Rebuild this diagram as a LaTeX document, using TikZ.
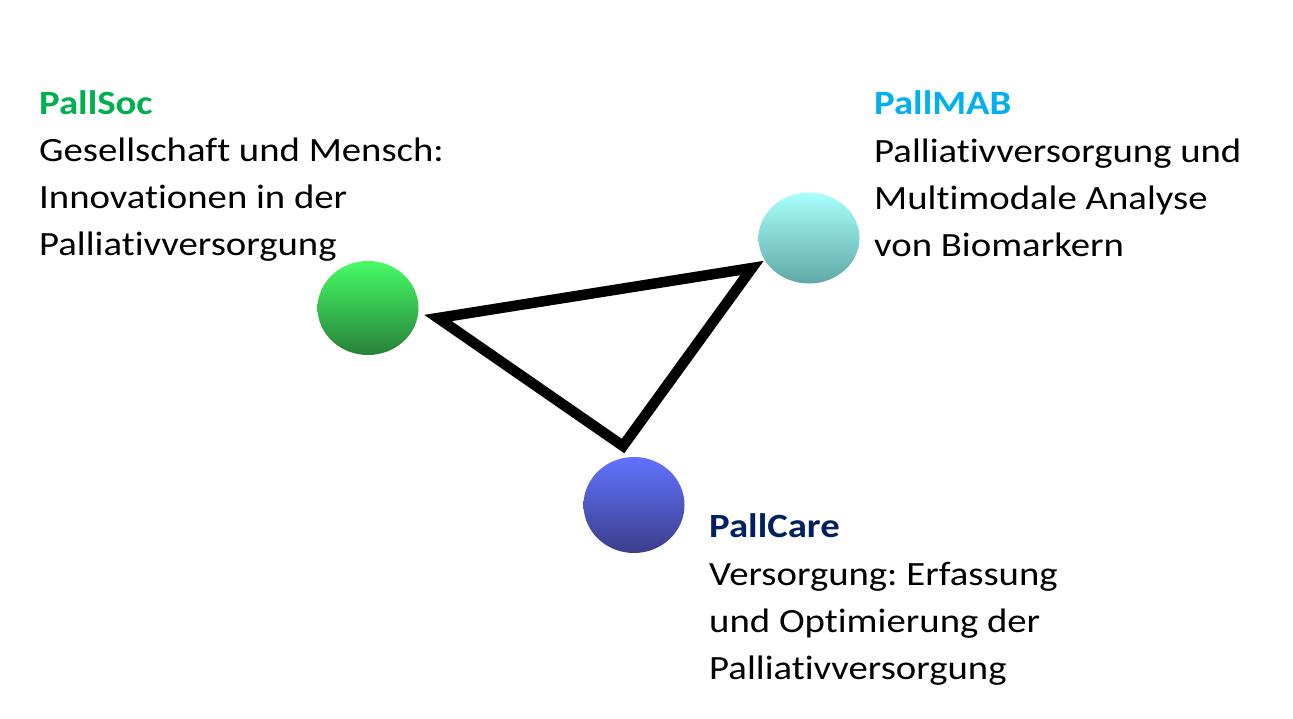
\documentclass[tikz,border=0pt]{standalone}
\usepackage{fontspec}
\setmainfont{Carlito}[Ligatures=NoCommon, FakeStretch=1.14]
\usetikzlibrary{shapes.geometric}
\frenchspacing
\definecolor{socgreen}{HTML}{00B050}
\definecolor{mabblue}{HTML}{00B0F0}
\definecolor{caredark}{HTML}{002060}
\tikzset{
  sphere/.style={ellipse, inner sep=0pt, draw=none, minimum width=101pt},
  txt/.style={anchor=base west, inner sep=0pt, font=\fontsize{34}{47}\selectfont},
  ttl/.style={txt, font=\fontsize{34}{47}\selectfont\bfseries},
  tri/.style={draw=black, line width=10.5pt, line join=miter},
}
\begin{document}
\begin{tikzpicture}[x=1pt,y=-1pt]
\useasboundingbox (0,0) rectangle (1293,718);
% spheres
\node[sphere, minimum height=94pt, top color={rgb,255:red,70;green,252;blue,102}, middle color={rgb,255:red,56;green,204;blue,78}, bottom color={rgb,255:red,40;green,128;blue,56}] (soc) at (368,308) {};
\node[sphere, minimum height=91pt, top color={rgb,255:red,168;green,255;blue,252}, middle color={rgb,255:red,138;green,236;blue,234}, bottom color={rgb,255:red,96;green,168;blue,166}] (mab) at (809,238) {};
\node[sphere, minimum height=96pt, top color={rgb,255:red,98;green,114;blue,255}, middle color={rgb,255:red,83;green,96;blue,230}, bottom color={rgb,255:red,58;green,62;blue,138}] (care) at (634,505) {};
% triangle
\coordinate (tA) at (438,318);
\coordinate (tB) at (752,268);
\coordinate (tC) at (623,446);
\draw[tri] (tA) -- (tB) -- (tC) -- cycle;
% PallSoc text
\node[ttl, text=socgreen] (socT) at (39,114) {PallSoc};
\node[txt] (soc1) at (39,161) {Gesellschaft und Mensch:};
\node[txt] (soc2) at (39,208) {Innovationen in der};
\node[txt] (soc3) at (39,255) {Palliativversorgung};
% PallMAB text
\node[ttl, text=mabblue] (mabT) at (874,114) {PallMAB};
\node[txt] (mab1) at (874,162) {Palliativversorgung und};
\node[txt] (mab2) at (874,209) {Multimodale Analyse};
\node[txt] (mab3) at (874,256) {von Biomarkern};
% PallCare text
\node[ttl, text=caredark] (careT) at (709,537) {PallCare};
\node[txt] (care1) at (709,585) {Versorgung: Erfassung};
\node[txt] (care2) at (709,632) {und Optimierung der};
\node[txt] (care3) at (709,679) {Palliativversorgung};
\end{tikzpicture}
\end{document}
